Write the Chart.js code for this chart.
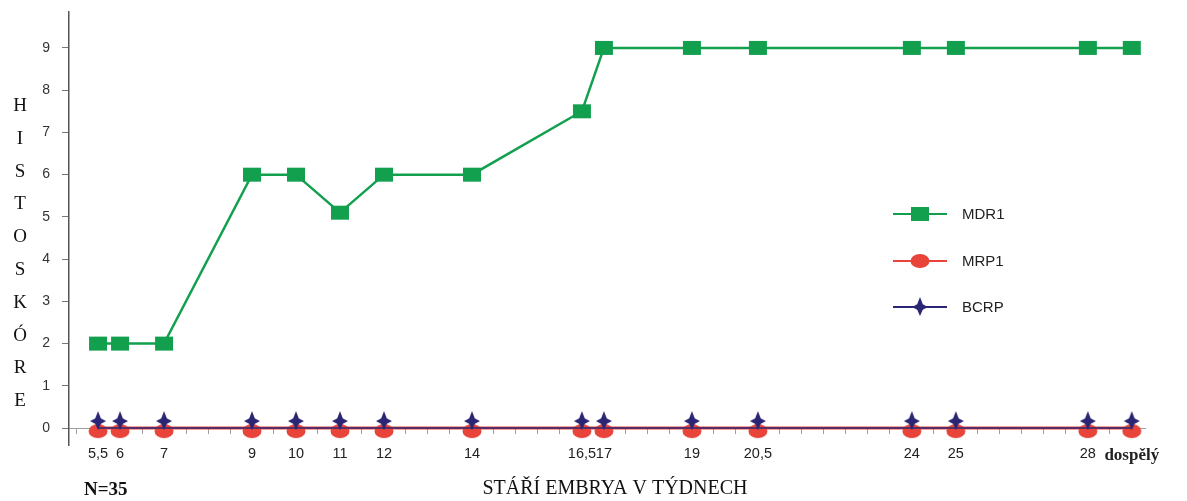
<!DOCTYPE html>
<html><head><meta charset="utf-8">
<script src="https://cdn.jsdelivr.net/npm/chart.js@4/dist/chart.umd.min.js"></script>
<style>html,body{margin:0;padding:0;background:#fff}</style></head>
<body>
<canvas id="c" width="1187" height="501"></canvas>
<script>
const weeks = [5.5, 6, 7, 9, 10, 11, 12, 14, 16.5, 17, 19, 20.5, 24, 25, 28, 29];
const weekLabels = ['5,5','6','7','9','10','11','12','14','16,5','17','19','20,5','24','25','28','dospělý'];
const mdr1 = [2, 2, 2, 6, 6, 5.1, 6, 6, 7.5, 9, 9, 9, 9, 9, 9, 9];
const mrp1 = [0, 0, 0, 0, 0, 0, 0, 0, 0, 0, 0, 0, 0, 0, 0, 0];
const bcrp = [0, 0, 0, 0, 0, 0, 0, 0, 0, 0, 0, 0, 0, 0, 0, 0];
const seriesNames = ['MDR1', 'MRP1', 'BCRP'];
const yTitle = 'HISTOSKÓRE';
const xTitle = 'STÁŘÍ EMBRYA V TÝDNECH';
const note = 'N=35';

const GREEN = '#12a04f', RED = '#e8443a', NAVY = '#2a2674';

function drawSquare(ctx, cx, cy) { ctx.fillStyle = GREEN; ctx.fillRect(cx - 9, cy - 7, 18, 14); }
function drawEllipse(ctx, cx, cy) { ctx.fillStyle = RED; ctx.beginPath(); ctx.ellipse(cx, cy, 9.5, 7, 0, 0, Math.PI * 2); ctx.fill(); }
function drawStar(ctx, cx, cy) {
  ctx.fillStyle = NAVY; ctx.beginPath();
  ctx.moveTo(cx, cy - 10); ctx.lineTo(cx + 2.8, cy - 2.8); ctx.lineTo(cx + 8, cy); ctx.lineTo(cx + 2.8, cy + 2.8);
  ctx.lineTo(cx, cy + 9); ctx.lineTo(cx - 2.8, cy + 2.8); ctx.lineTo(cx - 8, cy); ctx.lineTo(cx - 2.8, cy - 2.8);
  ctx.closePath(); ctx.fill();
}
function markerCanvas(w, h, fn, dy) {
  const c = document.createElement('canvas'); c.width = w; c.height = h;
  fn(c.getContext('2d'), w / 2, h / 2 + dy); return c;
}
const sqImg = markerCanvas(20, 16, drawSquare, 0);
const elImg = markerCanvas(22, 22, drawEllipse, 3);
const stImg = markerCanvas(18, 36, drawStar, -7);

const pts = arr => weeks.map((w, i) => ({x: w, y: arr[i]}));

const textPlugin = {
  id: 'texts',
  afterDraw(chart) {
    const ctx = chart.ctx; ctx.save();
    ctx.fillStyle = '#111'; ctx.font = '19px "Liberation Serif", serif';
    ctx.textAlign = 'center'; ctx.textBaseline = 'middle';
    const letters = Array.from(yTitle);
    letters.forEach((ch, i) => ctx.fillText(ch, 20, 106 + i * 32.8));
    ctx.font = '20px "Liberation Serif", serif';
    ctx.fillText(xTitle, 615, 489);
    ctx.font = 'bold 19px "Liberation Serif", serif'; ctx.textAlign = 'left';
    ctx.fillText(note, 84, 490);
    const cols = [GREEN, RED, NAVY], fns = [drawSquare, drawEllipse, drawStar];
    const ly = [214, 261, 307];
    ctx.font = '15px "Liberation Sans", Arial, sans-serif'; ctx.textAlign = 'left';
    seriesNames.forEach((n, i) => {
      ctx.strokeStyle = cols[i]; ctx.lineWidth = 2.2;
      ctx.beginPath(); ctx.moveTo(893, ly[i]); ctx.lineTo(947, ly[i]); ctx.stroke();
      fns[i](ctx, 920, ly[i]);
      ctx.fillStyle = '#222'; ctx.fillText(n, 962, ly[i] + 1);
    });
    ctx.restore();
  }
};

new Chart(document.getElementById('c'), {
  type: 'line',
  data: {
    datasets: [
      {label: seriesNames[0], data: pts(mdr1), borderColor: GREEN, borderWidth: 2.5, pointStyle: sqImg, order: 2},
      {label: seriesNames[1], data: pts(mrp1), borderColor: RED, borderWidth: 3, pointStyle: elImg, order: 1},
      {label: seriesNames[2], data: pts(bcrp), borderColor: NAVY, borderWidth: 1.5, pointStyle: stImg, order: 0}
    ]
  },
  options: {
    responsive: false, animation: false,
    layout: {padding: {left: 0, right: 42, top: 12, bottom: 56}},
    elements: {line: {tension: 0, fill: false}},
    plugins: {legend: {display: false}, tooltip: {enabled: false}},
    scales: {
      x: {
        type: 'linear', position: {y: 0}, min: 4.84, max: 29.3,
        afterFit: s => { s.paddingTop = 0; s.paddingBottom = 0; },
        border: {display: true, color: '#a0a0a0', width: 1},
        grid: {display: true, drawOnChartArea: false, drawTicks: true, tickLength: 5, color: '#a0a0a0'},
        ticks: {
          stepSize: 0.5, includeBounds: false, autoSkip: false, maxRotation: 0, padding: 12,
          callback: v => { const i = weeks.indexOf(v); return i >= 0 ? weekLabels[i] : ''; },
          color: '#222',
          font: c => (c.tick && c.tick.value === 29) ? {family: '"Liberation Serif", serif', size: 17, weight: 'bold'} : {family: '"Liberation Sans", Arial, sans-serif', size: 14.5}
        }
      },
      y: {
        min: -0.4, max: 9.85,
        afterFit: s => { s.width = 69; s.paddingTop = 0; s.paddingBottom = 0; },
        border: {display: true, color: '#555', width: 1.5},
        grid: {display: true, drawOnChartArea: false, drawTicks: true, tickLength: 7, color: '#777'},
        ticks: {stepSize: 1, includeBounds: false, padding: 12, color: '#333',
          font: {family: '"Liberation Sans", Arial, sans-serif', size: 14}}
      }
    }
  },
  plugins: [textPlugin]
});
</script>
</body></html>
